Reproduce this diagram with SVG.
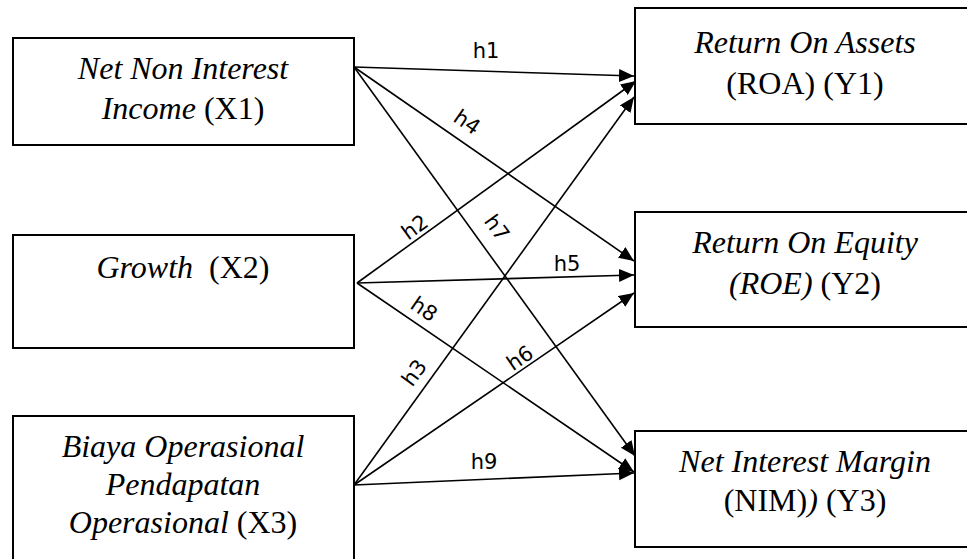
<svg xmlns="http://www.w3.org/2000/svg" width="967" height="559" viewBox="0 0 967 559">
<style>
.box{fill:#fff;stroke:#000;stroke-width:2}
.t{font-family:"Liberation Serif","Times New Roman",serif;font-size:32px;fill:#000;text-anchor:middle}
.i{font-style:italic}
.c{stroke:#000;stroke-width:1.6;fill:none;marker-end:url(#ah)}
.h{font-family:"DejaVu Sans",Verdana,sans-serif;font-size:21px;fill:#000;text-anchor:middle}
</style>
<defs>
<marker id="ah" markerUnits="userSpaceOnUse" markerWidth="16" markerHeight="14" refX="15" refY="6.5" orient="auto">
<path d="M0,0 L15,6.5 L0,13 Z" fill="#000"/>
</marker>
</defs>
<rect width="967" height="559" fill="#fff"/>
<g id="connectors">
<line class="c" x1="354" y1="67" x2="634" y2="76"/>
<line class="c" x1="357" y1="283" x2="636" y2="81"/>
<line class="c" x1="354" y1="485" x2="634" y2="97"/>
<line class="c" x1="354" y1="67" x2="634" y2="261"/>
<line class="c" x1="357" y1="283" x2="634" y2="275"/>
<line class="c" x1="354" y1="485" x2="634" y2="293"/>
<line class="c" x1="354" y1="67" x2="635" y2="456"/>
<line class="c" x1="357" y1="283" x2="634" y2="472"/>
<line class="c" x1="354" y1="485" x2="634" y2="473"/>
<text class="h" x="486" y="58">h1</text>
<text class="h" transform="translate(463,128) rotate(34.7)">h4</text>
<text class="h" transform="translate(419,233) rotate(-35.9)">h2</text>
<text class="h" transform="translate(491,232) rotate(54)">h7</text>
<text class="h" x="567" y="271">h5</text>
<text class="h" transform="translate(420,315) rotate(34.4)">h8</text>
<text class="h" transform="translate(420,377) rotate(-54)">h3</text>
<text class="h" transform="translate(524,364) rotate(-34.5)">h6</text>
<text class="h" x="484" y="469">h9</text>
</g>
<g id="X1">
<rect class="box" x="13" y="38" width="341" height="107"/>
<text class="t i" x="183" y="79">Net Non Interest</text>
<text class="t" x="183" y="119"><tspan class="i">Income</tspan> (X1)</text>
</g>
<g id="X2">
<rect class="box" x="13" y="235" width="341" height="113"/>
<text class="t" x="183" y="278"><tspan class="i">Growth</tspan>&#160; (X2)</text>
</g>
<g id="X3">
<rect class="box" x="13" y="416" width="341" height="160"/>
<text class="t i" x="183" y="457">Biaya Operasional</text>
<text class="t i" x="183" y="495">Pendapatan</text>
<text class="t" x="183" y="533"><tspan class="i">Operasional</tspan> (X3)</text>
</g>
<g id="Y1">
<rect class="box" x="635" y="8" width="340" height="116"/>
<text class="t i" x="805" y="53">Return On Assets</text>
<text class="t" x="805" y="94">(ROA) (Y1)</text>
</g>
<g id="Y2">
<rect class="box" x="635" y="212" width="340" height="115"/>
<text class="t i" x="805" y="253">Return On Equity</text>
<text class="t" x="805" y="294"><tspan class="i">(ROE)</tspan> (Y2)</text>
</g>
<g id="Y3">
<rect class="box" x="635" y="431" width="340" height="116"/>
<text class="t i" x="805" y="472">Net Interest Margin</text>
<text class="t" x="805" y="511">(NIM)<tspan class="i">)</tspan> (Y3)</text>
</g>
</svg>
